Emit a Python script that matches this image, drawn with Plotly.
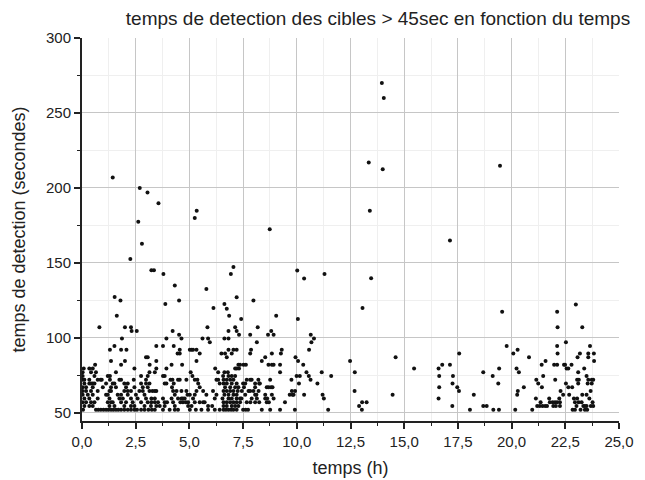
import plotly.graph_objects as go

# Detection times (s) grouped by level; each list holds the times (h) of the points at that level
t_52 = [0.05, 0.65, 0.76, 0.88, 1.0, 1.12, 1.23, 1.35, 1.46, 1.58, 1.69, 1.82, 1.97, 2.13, 2.28, 2.44, 2.56, 2.75,
        2.91, 3.09, 3.25, 3.39, 3.77, 4.08, 4.32, 4.47, 5.02, 5.3, 5.56, 5.87, 6.18, 6.41, 6.59, 6.7, 6.82, 6.94,
        7.05, 7.2, 7.5, 7.62, 7.73, 8.37, 8.76, 9.22, 9.91, 11.46, 13.03, 18.06, 19.15, 19.41, 20.17, 20.96,
        22.84, 22.95, 23.21, 23.41, 23.52]
t_54 = [0.11, 0.34, 0.5, 1.28, 1.51, 1.97, 2.28, 2.44, 2.91, 3.21, 3.46, 3.62, 3.85, 4.32, 4.94, 5.1, 5.87, 6.06,
        6.59, 6.74, 6.97, 7.13, 7.28, 12.9, 17.24, 18.68, 18.84, 21.19, 21.31, 21.44, 21.56, 21.65, 21.94, 22.06,
        22.25, 23.02, 23.34, 23.41, 23.49, 23.69, 23.8]
t_57 = [0.03, 0.19, 0.42, 0.58, 1.2, 1.35, 1.43, 1.82, 2.05, 2.36, 2.75, 3.06, 3.23, 3.39, 3.54, 3.85, 3.96, 4.24,
        4.58, 4.7, 4.83, 4.94, 5.25, 5.48, 5.64, 5.71, 6.59, 6.74, 6.9, 7.05, 7.2, 7.36, 7.67, 7.84, 8.06, 8.25,
        8.6, 8.7, 9.45, 13.04, 13.25, 21.35, 21.78, 21.91, 22.02, 22.12, 22.25, 22.95, 23.12, 23.26, 23.77]
t_59 = [0.11, 0.34, 0.73, 1.28, 1.74, 1.9, 2.28, 2.59, 2.98, 3.23, 3.39, 3.77, 4.17, 4.47, 4.63, 4.7, 4.78, 5.17,
        6.18, 6.54, 6.82, 6.97, 7.2, 7.36, 7.42, 7.9, 8.14, 8.53, 8.62, 8.92, 11.26, 16.6, 21.13, 21.75, 22.22,
        22.9, 23.05, 23.62]
t_62 = [0.03, 0.27, 0.5, 1.12, 1.2, 1.66, 1.82, 2.13, 2.51, 2.91, 4.32, 4.91, 5.02, 5.25, 5.79, 6.26, 6.63, 6.82,
        7.05, 7.2, 7.6, 8.06, 8.12, 8.53, 8.84, 9.67, 9.8, 9.85, 10.34, 11.2, 14.46, 18.24, 20.26, 22.4, 22.68,
        23.29, 23.49]
t_64 = [0.03, 0.19, 0.42, 0.73, 1.28, 1.35, 1.97, 2.13, 2.28, 2.67, 2.83, 3.14, 3.28, 3.39, 3.46, 4.24, 4.4, 4.63,
        4.86, 5.33, 5.64, 6.1, 6.59, 6.74, 6.9, 7.05, 7.25, 7.44, 7.75, 7.83, 7.98, 8.22, 9.77, 9.92, 12.69,
        17.55, 20.29, 22.28, 23.68]
t_67 = [0.03, 0.19, 0.5, 0.97, 1.35, 1.58, 2.05, 2.44, 2.83, 3.06, 4.19, 5.48, 6.66, 6.9, 7.13, 7.28, 7.54, 8.06,
        8.6, 8.68, 8.8, 8.87, 16.63, 17.47, 20.57, 21.41, 22.64, 22.82]
t_69 = [0.11, 0.34, 0.42, 0.5, 0.58, 1.12, 1.43, 1.51, 1.97, 2.13, 2.75, 2.98, 3.14, 3.85, 3.93, 4.27, 5.41, 6.41,
        6.59, 6.74, 6.97, 7.2, 7.5, 7.6, 8.06, 8.25, 8.28, 10.1, 10.96, 17.25, 19.38, 21.24, 22.53, 23.1, 23.54,
        23.73]
t_72 = [0.03, 0.11, 0.34, 0.73, 0.86, 0.92, 1.3, 1.74, 1.82, 2.41, 2.98, 4.12, 4.21, 4.47, 4.55, 4.86, 5.25, 5.37,
        6.26, 6.34, 6.59, 6.74, 6.9, 7.05, 7.67, 7.83, 7.9, 8.21, 8.76, 9.75, 10.64, 21.15, 22.03, 23.05, 23.13,
        23.57, 23.73, 23.8]
t_75 = [0.03, 0.58, 1.2, 1.3, 2.75, 3.06, 3.77, 3.85, 5.14, 6.57, 6.82, 6.97, 7.13, 9.99, 10.14, 10.56, 11.6,
        16.63, 17.27, 19.12, 21.47, 23.49]
t_77 = [0.03, 0.42, 0.65, 1.58, 3.14, 3.39, 5.06, 6.34, 6.63, 6.79, 9.22, 10.45, 11.16, 12.7, 18.68, 20.34, 23.1]
t_80 = [0.08, 0.34, 0.5, 2.44, 3.46, 3.93, 6.2, 7.13, 7.2, 7.31, 15.46, 16.6, 19.42, 20.23, 22.56, 22.64, 23.38]
t_82 = [0.61, 1.82, 3.15, 4.17, 4.66, 7.28, 7.36, 7.52, 7.63, 8.68, 8.84, 8.92, 9.22, 10.3, 16.77, 17.13, 21.4,
        21.98, 22.12, 22.44, 22.49, 22.79]
t_85 = [1.35, 2.0, 3.46, 5.33, 8.37, 10.06, 12.48, 21.58, 23.84]
t_87 = [2.98, 3.06, 6.74, 8.53, 9.94, 14.6, 20.81, 23.07, 23.57]
t_90 = [4.45, 4.55, 5.48, 6.49, 6.66, 6.97, 7.83, 8.84, 9.26, 17.56, 20.08, 22.14, 23.18, 23.57, 23.83]
t_92 = [1.3, 1.82, 2.07, 4.55, 5.02, 5.1, 5.17, 5.33, 6.82, 7.05, 7.2, 7.87, 9.3, 10.57, 20.28]
t_95 = [1.51, 3.46, 3.77, 4.27, 19.77, 22.12, 23.65]
t_97 = [5.95, 8.14, 10.68, 22.53]
t_100 = [1.86, 3.93, 4.63, 5.61, 5.87, 6.63, 6.82, 10.8]
t_102 = [4.52, 7.31, 7.83, 8.66, 8.92, 10.65]
t_105 = [2.31, 2.55, 4.22, 6.82, 7.2, 8.81]
t_107 = [0.81, 2.0, 2.28, 5.84, 7.13, 8.18, 22.14, 23.29]

levels = [52, 54.5, 57, 59.5, 62, 64.5, 67, 69.5, 72, 74.5, 77, 79.5, 82, 84.5, 87, 89.5, 92, 94.5, 97, 99.5,
          102, 104.5, 107]

# Isolated long detections
high_t = [1.62, 1.52, 1.79, 2.25, 2.79, 2.62, 1.43, 2.69, 3.05, 3.56, 3.23, 3.35, 3.79, 4.32, 4.52, 3.88, 5.34,
          5.25, 5.79, 6.12, 6.63, 6.74, 6.85, 6.93, 7.05, 7.2, 7.41, 7.98, 8.74, 9.04, 10.02, 10.34, 11.29, 10.05,
          13.06, 13.46, 13.35, 13.4, 13.96, 14.05, 14.0, 17.13, 19.46, 19.56, 22.12, 22.99]
high_d = [114.7, 127.3, 124.9, 152.5, 162.7, 177.5, 207, 200, 197, 189.7, 145, 145, 142.5, 134.9, 124.9, 122.5,
          184.7, 180, 132.5, 119.8, 122.5, 119.3, 114.7, 142.5, 147.3, 127.1, 112.5, 124.9, 172.5, 114.7, 144.9,
          139.5, 142.5, 112.5, 119.8, 139.8, 217, 184.7, 270, 260, 212.5, 164.9, 214.7, 117.3, 117.3, 122.2]

groups = [t_52, t_54, t_57, t_59, t_62, t_64, t_67, t_69, t_72, t_75, t_77, t_80, t_82, t_85, t_87, t_90, t_92,
          t_95, t_97, t_100, t_102, t_105, t_107]

xs, ys = [], []
for lvl, ts in zip(levels, groups):
    xs.extend(ts)
    ys.extend([lvl] * len(ts))
xs.extend(high_t)
ys.extend(high_d)

FONT = "Liberation Sans, Arial, sans-serif"
INK = "#222222"

fig = go.Figure(go.Scatter(x=xs, y=ys, mode="markers",
                           marker=dict(size=4, color="#111111", line=dict(width=0)),
                           showlegend=False, hoverinfo="skip", cliponaxis=False))

fig.update_layout(
    width=645, height=480,
    margin=dict(l=82, r=26, t=38, b=59, autoexpand=False),
    paper_bgcolor="white", plot_bgcolor="white",
    separators=", ",
    font=dict(family=FONT, color=INK, size=15),
    title=dict(text="temps de detection des cibles > 45sec en fonction du temps",
               x=0.586, xanchor="center", xref="container",
               y=0.962, yanchor="middle", yref="container",
               font=dict(family=FONT, size=19, color=INK)),
)

fig.update_xaxes(
    range=[0, 25], tick0=0, dtick=2.5, tickformat=".1f", automargin=False,
    ticks="outside", ticklen=6, tickwidth=1.5, tickcolor=INK,
    showline=True, linecolor=INK, linewidth=2,
    showgrid=True, gridcolor="#c6c6c6", gridwidth=1, zeroline=False,
    minor=dict(dtick=1.25, ticks="outside", ticklen=3, tickwidth=1.2, tickcolor=INK,
               showgrid=True, gridcolor="#efefef", gridwidth=1),
    title=dict(text="temps (h)", font=dict(family=FONT, size=18, color=INK), standoff=12),
    tickfont=dict(family=FONT, size=15, color=INK),
)
fig.update_yaxes(
    range=[44.5, 300], tick0=50, dtick=50, automargin=False,
    ticks="outside", ticklen=6, tickwidth=1.5, tickcolor=INK,
    showline=True, linecolor=INK, linewidth=2,
    showgrid=True, gridcolor="#c6c6c6", gridwidth=1, zeroline=False,
    minor=dict(dtick=25, tick0=50, ticks="outside", ticklen=3, tickwidth=1.2, tickcolor=INK,
               showgrid=True, gridcolor="#efefef", gridwidth=1),
    title=dict(text="temps de detection (secondes)", font=dict(family=FONT, size=18, color=INK),
               standoff=16),
    tickfont=dict(family=FONT, size=15, color=INK),
)

fig.write_html("out.html",
               config={"displayModeBar": False},
               post_script="document.body.style.margin='0';document.body.style.overflow='hidden';")
